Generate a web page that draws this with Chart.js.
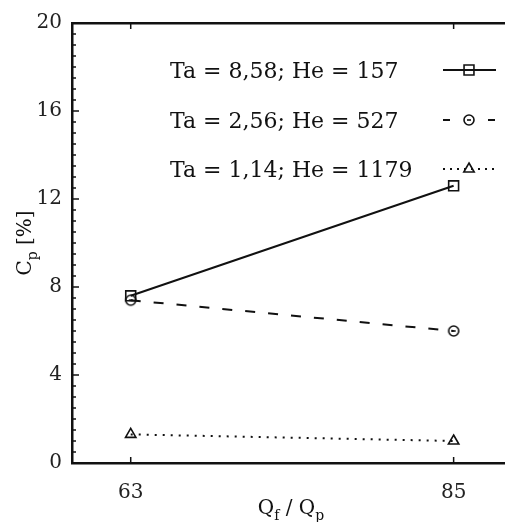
<!DOCTYPE html>
<html>
<head>
<meta charset="utf-8">
<script src="https://cdn.jsdelivr.net/npm/chart.js@4/dist/chart.umd.min.js"></script>
<style>
  body { margin: 0; background: #fff; }
</style>
</head>
<body>
<canvas id="myChart" width="505" height="522"></canvas>
<script>
// data
const flowRatio = [63, 85];
const seriesLabels = ['Ta = 8,58; He = 157', 'Ta = 2,56; He = 527', 'Ta = 1,14; He = 1179'];
const cpLow = [7.6, 12.6];
const cpMid = [7.4, 6.0];
const cpHigh = [1.3, 1.0];
const xTicks = [63, 85];
const yTicks = [0, 4, 8, 12, 16, 20];
const yMinor = 0.5;

const serif = 'DejaVu Serif';
const ink = '#111';

// circle marker with a short bar inside
function circleMark() {
  const c = document.createElement('canvas');
  c.width = 14; c.height = 14;
  const g = c.getContext('2d');
  g.strokeStyle = ink; g.lineWidth = 1.6;
  g.beginPath(); g.arc(7, 7, 5, 0, Math.PI * 2); g.stroke();
  g.beginPath(); g.moveTo(5, 7); g.lineTo(9, 7); g.stroke();
  return c;
}
const circ = circleMark();

function subText(ctx, parts, x, y, size) {
  let w = 0;
  parts.forEach(p => {
    ctx.font = (p[1] ? size * 0.7 : size) + 'px "' + serif + '"';
    w += ctx.measureText(p[0]).width;
  });
  let cx = x - w / 2;
  parts.forEach(p => {
    ctx.font = (p[1] ? size * 0.7 : size) + 'px "' + serif + '"';
    ctx.fillText(p[0], cx, y + (p[1] ? size * 0.3 : 0));
    cx += ctx.measureText(p[0]).width;
  });
}

const extras = {
  id: 'extras',
  afterDraw(chart) {
    const ctx = chart.ctx, a = chart.chartArea;
    const x = chart.scales.x, y = chart.scales.y;
    ctx.save();
    ctx.strokeStyle = ink;
    ctx.fillStyle = ink;
    ctx.lineWidth = 1.5;
    // inner ticks on the y axis
    for (let v = yTicks[0]; v <= yTicks[yTicks.length - 1]; v += yMinor) {
      const py = y.getPixelForValue(v);
      const len = yTicks.includes(v) ? 7 : 4;
      ctx.beginPath(); ctx.moveTo(a.left, py); ctx.lineTo(a.left + len, py); ctx.stroke();
    }
    // inner ticks bottom and top
    xTicks.forEach(v => {
      const px = x.getPixelForValue(v);
      ctx.beginPath(); ctx.moveTo(px, a.bottom); ctx.lineTo(px, a.bottom - 6); ctx.stroke();
      ctx.beginPath(); ctx.moveTo(px, a.top); ctx.lineTo(px, a.top + 6); ctx.stroke();
    });

    // axis titles with subscripts
    ctx.textAlign = 'left';
    ctx.textBaseline = 'alphabetic';
    subText(ctx, [['Q', false], ['f', true], [' / Q', false], ['p', true]], 291, 514, 20);
    ctx.save();
    ctx.translate(31, (a.top + a.bottom) / 2);
    ctx.rotate(-Math.PI / 2);
    subText(ctx, [['C', false], ['p', true], [' [%]', false]], 0, 0, 20);
    ctx.restore();

    // legend
    const rows = [78, 128, 177];
    chart.data.datasets.forEach((ds, i) => {
      ctx.font = '22px "' + serif + '"';
      ctx.fillStyle = ink;
      ctx.fillText(ds.label, 170, rows[i]);
      const ly = rows[i] - 8;
      ctx.strokeStyle = ink;
      ctx.lineWidth = ds.borderWidth;
      ctx.setLineDash(ds.legendDash);
      ctx.beginPath(); ctx.moveTo(443, ly); ctx.lineTo(496, ly); ctx.stroke();
      ctx.setLineDash([]);
      ctx.fillStyle = 'rgba(0,0,0,0)';
      ctx.lineWidth = ds.pointBorderWidth;
      Chart.helpers.drawPoint(ctx, {
        pointStyle: ds.pointStyle, radius: ds.pointRadius, rotation: 0,
        borderWidth: ds.pointBorderWidth
      }, 469, ly);
    });
    ctx.restore();
  }
};

const common = {
  borderColor: ink,
  borderWidth: 2,
  pointBorderColor: ink,
  pointBackgroundColor: 'rgba(0,0,0,0)',
  pointBorderWidth: 1.6,
  fill: false,
  tension: 0
};

const noPad = s => { s.paddingLeft = 0; s.paddingRight = 0; };

new Chart(document.getElementById('myChart').getContext('2d'), {
  type: 'line',
  data: {
    datasets: [
      Object.assign({}, common, {
        label: seriesLabels[0],
        data: flowRatio.map((v, i) => ({ x: v, y: cpLow[i] })),
        pointStyle: 'rect', pointRadius: 7, legendDash: []
      }),
      Object.assign({}, common, {
        label: seriesLabels[1],
        data: flowRatio.map((v, i) => ({ x: v, y: cpMid[i] })),
        borderDash: [10, 13],
        pointStyle: circ, pointRadius: 6, legendDash: [7, 38]
      }),
      Object.assign({}, common, {
        label: seriesLabels[2],
        data: flowRatio.map((v, i) => ({ x: v, y: cpHigh[i] })),
        borderDash: [2, 6],
        pointStyle: 'triangle', pointRadius: 6, legendDash: [2, 5]
      })
    ]
  },
  options: {
    responsive: false,
    animation: false,
    layout: { padding: 0, autoPadding: false },
    plugins: { legend: { display: false }, tooltip: { enabled: false } },
    scales: {
      x: {
        type: 'linear',
        position: 'bottom',
        min: 59,
        max: 88.5,
        afterBuildTicks: s => { s.ticks = xTicks.map(v => ({ value: v })); },
        afterFit: s => { s.height = 59; noPad(s); },
        grid: { display: true, drawOnChartArea: false, drawTicks: false },
        border: { display: true, color: ink, width: 2.5 },
        ticks: { color: '#222', padding: 18, font: { family: serif, size: 20 } }
      },
      x2: {
        type: 'linear',
        position: 'top',
        min: 59,
        max: 88.5,
        afterFit: s => { s.height = 23; noPad(s); },
        grid: { display: true, drawOnChartArea: false, drawTicks: false },
        border: { display: true, color: ink, width: 2.5 },
        ticks: { display: false }
      },
      y: {
        min: 0,
        max: 20,
        afterBuildTicks: s => { s.ticks = yTicks.map(v => ({ value: v })); },
        afterFit: s => { s.width = 72; },
        grid: { display: true, drawOnChartArea: false, drawTicks: false },
        border: { display: true, color: ink, width: 2.5 },
        ticks: { color: '#222', padding: 10, font: { family: serif, size: 20 } }
      }
    }
  },
  plugins: [extras]
});
</script>
</body>
</html>
